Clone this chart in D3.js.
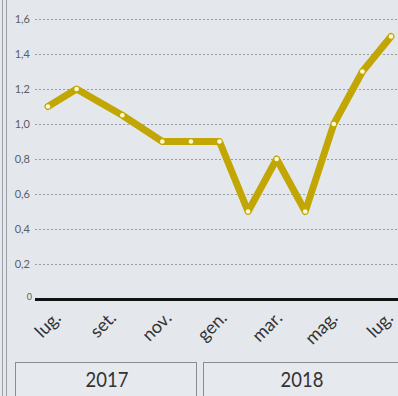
<!DOCTYPE html>
<html><head><meta charset="utf-8">
<script src="https://cdn.jsdelivr.net/npm/d3@7/dist/d3.min.js"></script>
<style>
html,body{margin:0;padding:0;background:#e4e8ed;}
svg{display:block;font-family:Lato,"Open Sans",sans-serif;}
</style></head>
<body>
<script>
const monthPos = [0,1,2.6,4,5,6,7,8,9,10,11,12];
const values = [1.1,1.2,1.05,0.9,0.9,0.9,0.5,0.8,0.5,1.0,1.3,1.5];
const yTicks = [0,0.2,0.4,0.6,0.8,1.0,1.2,1.4,1.6];
const xTickPos = [0,2,4,6,8,10,12];
const xTickLabels = ["lug.","set.","nov.","gen.","mar.","mag.","lug."];
const years = ["2017","2018"];

const W=398,H=396;
const svg=d3.select("body").append("svg").attr("width",W).attr("height",H);
svg.append("rect").attr("width",W).attr("height",H).attr("fill","#e4e8ed");

const x=d3.scaleLinear().domain([0,12]).range([48,391]);
const y=d3.scaleLinear().domain([0,1.6]).range([299,19]);

// left double border
svg.append("line").attr("x1",2.5).attr("x2",2.5).attr("y1",0).attr("y2",H).attr("stroke","#9a9ea3").attr("stroke-width",1);
svg.append("line").attr("x1",6.5).attr("x2",6.5).attr("y1",0).attr("y2",H).attr("stroke","#9a9ea3").attr("stroke-width",1);

// grid
svg.selectAll("line.grid").data(yTicks.filter(d=>d>0)).join("line")
  .attr("class","grid").attr("x1",35).attr("x2",W).attr("y1",d=>Math.round(y(d))+0.5).attr("y2",d=>Math.round(y(d))+0.5)
  .attr("stroke","#979ca2").attr("stroke-width",1).attr("stroke-dasharray","2,2");

// y labels
svg.selectAll("text.yl").data(yTicks).join("text").attr("class","yl")
  .attr("x",d=>d===0?32:30).attr("y",d=>y(d)+ (d===0?1:4)).attr("text-anchor","end")
  .attr("font-size",d=>d===0?9:11).attr("fill","#5a5d62")
  .text(d=>d===0?"0":d3.format(".1f")(d).replace(".",","));

// baseline
svg.append("line").attr("x1",35).attr("x2",W).attr("y1",y(0)+0.5).attr("y2",y(0)+0.5).attr("stroke","#111").attr("stroke-width",3);

// line
const pts=monthPos.map((m,i)=>[x(m),y(values[i])]);
svg.append("path").attr("d",d3.line()(pts)).attr("fill","none").attr("stroke","#c2a604").attr("stroke-width",7).attr("stroke-linejoin","round").attr("stroke-linecap","round");
svg.selectAll("circle.pt").data(pts).join("circle").attr("class","pt")
  .attr("cx",d=>d[0]).attr("cy",d=>d[1]).attr("r",2.3).attr("fill","#fffbd2");

// x labels
svg.selectAll("text.xl").data(xTickPos).join("text").attr("class","xl")
  .attr("transform",(d)=>`translate(${x(d)+14-d*0.9},${319}) rotate(-45)`)
  .attr("text-anchor","end").attr("font-size",18).attr("fill","#333")
  .text((d,i)=>xTickLabels[i]);

// year boxes
const boxes=[{x0:15,x1:196,t:years[0],c:107},{x0:203,x1:410,t:years[1],c:302}];
svg.selectAll("rect.yb").data(boxes).join("rect").attr("class","yb")
  .attr("x",d=>d.x0+0.5).attr("y",362.5).attr("width",d=>d.x1-d.x0).attr("height",50)
  .attr("fill","#e6eaee").attr("stroke","#8a8e93").attr("stroke-width",1);
svg.selectAll("text.yt").data(boxes).join("text").attr("class","yt")
  .attr("transform",d=>`translate(${d.c},387) scale(0.84,1)`).attr("text-anchor","middle")
  .attr("font-size",22).attr("fill","#333").text(d=>d.t);
</script>
</body></html>
